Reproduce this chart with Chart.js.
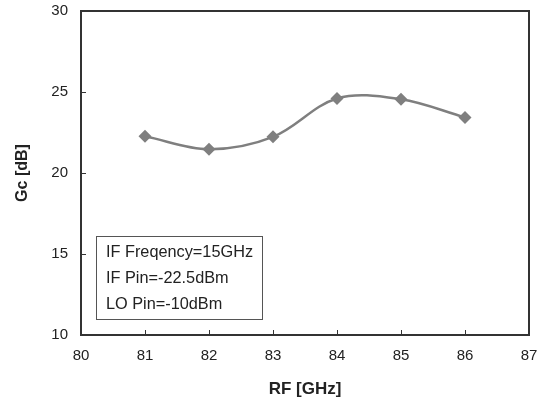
<!DOCTYPE html>
<html>
<head>
<meta charset="utf-8">
<script src="https://cdn.jsdelivr.net/npm/chart.js@4/dist/chart.umd.min.js"></script>
<style>
  html, body { margin: 0; padding: 0; background: #fff; }
  #wrap { width: 543px; height: 405px; }
</style>
</head>
<body>
<div id="wrap"><canvas id="gcChart" width="543" height="405"></canvas></div>
<script>
// RF frequency (GHz) vs conversion gain (dB)
const rfGHz = [81, 82, 83, 84, 85, 86];
const gcDb = [22.27, 21.47, 22.23, 24.6, 24.55, 23.43];
const noteLines = ['IF Freqency=15GHz', 'IF Pin=-22.5dBm', 'LO Pin=-10dBm'];

const FONT = "'Liberation Sans', Arial, sans-serif";
const GREY = '#7f7f7f';

// frame + inward tick marks + note box
const framePlugin = {
  id: 'frame',
  afterDraw(chart) {
    const { ctx, chartArea: a, scales } = chart;
    ctx.save();
    ctx.strokeStyle = '#333';
    ctx.lineWidth = 1;
    scales.x.ticks.forEach((t) => {
      const px = Math.round(scales.x.getPixelForValue(t.value)) + 0.5;
      ctx.beginPath();
      ctx.moveTo(px, a.bottom);
      ctx.lineTo(px, a.bottom - 5);
      ctx.stroke();
    });
    scales.y.ticks.forEach((t) => {
      const py = Math.round(scales.y.getPixelForValue(t.value)) + 0.5;
      ctx.beginPath();
      ctx.moveTo(a.left, py);
      ctx.lineTo(a.left + 5, py);
      ctx.stroke();
    });
    ctx.lineWidth = 2;
    ctx.strokeStyle = '#333';
    ctx.strokeRect(a.left, a.top, a.right - a.left, a.bottom - a.top);

    // note box
    const bx = a.left + 15, by = a.top + 225, bw = 166, bh = 83;
    ctx.lineWidth = 1;
    ctx.strokeStyle = '#555';
    ctx.fillStyle = '#fff';
    ctx.fillRect(bx, by, bw, bh);
    ctx.strokeRect(bx + 0.5, by + 0.5, bw, bh);
    ctx.fillStyle = '#222';
    ctx.font = '16.3px ' + FONT;
    ctx.textBaseline = 'middle';
    noteLines.forEach((s, i) => ctx.fillText(s, bx + 10, by + 17 + i * 26));
    ctx.restore();
  },
};

new Chart(document.getElementById('gcChart'), {
  type: 'scatter',
  data: {
    datasets: [{
      data: rfGHz.map((x, i) => ({ x, y: gcDb[i] })),
      showLine: true,
      tension: 0.35,
      borderColor: GREY,
      borderWidth: 2.5,
      backgroundColor: GREY,
      pointStyle: 'rectRot',
      pointRadius: 6.5,
      pointBorderWidth: 0,
    }],
  },
  options: {
    responsive: false,
    animation: false,
    layout: { padding: { left: 0, top: 11, right: 14, bottom: 0 } },
    plugins: { legend: { display: false }, tooltip: { enabled: false } },
    scales: {
      x: {
        type: 'linear',
        min: 80,
        max: 87,
        afterFit: (s) => { s.height = 70; s.paddingLeft = 0; s.paddingRight = 0; },
        grid: { display: false, drawTicks: false },
        border: { display: false },
        ticks: { stepSize: 1, padding: 12, color: '#222', font: { family: FONT, size: 15 } },
        title: {
          display: true,
          text: 'RF [GHz]',
          color: '#222',
          font: { family: FONT, size: 17, weight: 'bold' },
          padding: { top: 0, bottom: 5 },
        },
      },
      y: {
        min: 10,
        max: 30,
        afterFit: (s) => { s.width = 81; s.paddingTop = 0; s.paddingBottom = 0; },
        grid: { display: false, drawTicks: false },
        border: { display: false },
        ticks: { stepSize: 5, padding: 13, color: '#222', font: { family: FONT, size: 15 } },
        title: {
          display: true,
          text: 'Gc [dB]',
          color: '#222',
          font: { family: FONT, size: 16, weight: 'bold' },
          padding: { top: 13, bottom: 0 },
        },
      },
    },
  },
  plugins: [framePlugin],
});
</script>
</body>
</html>
